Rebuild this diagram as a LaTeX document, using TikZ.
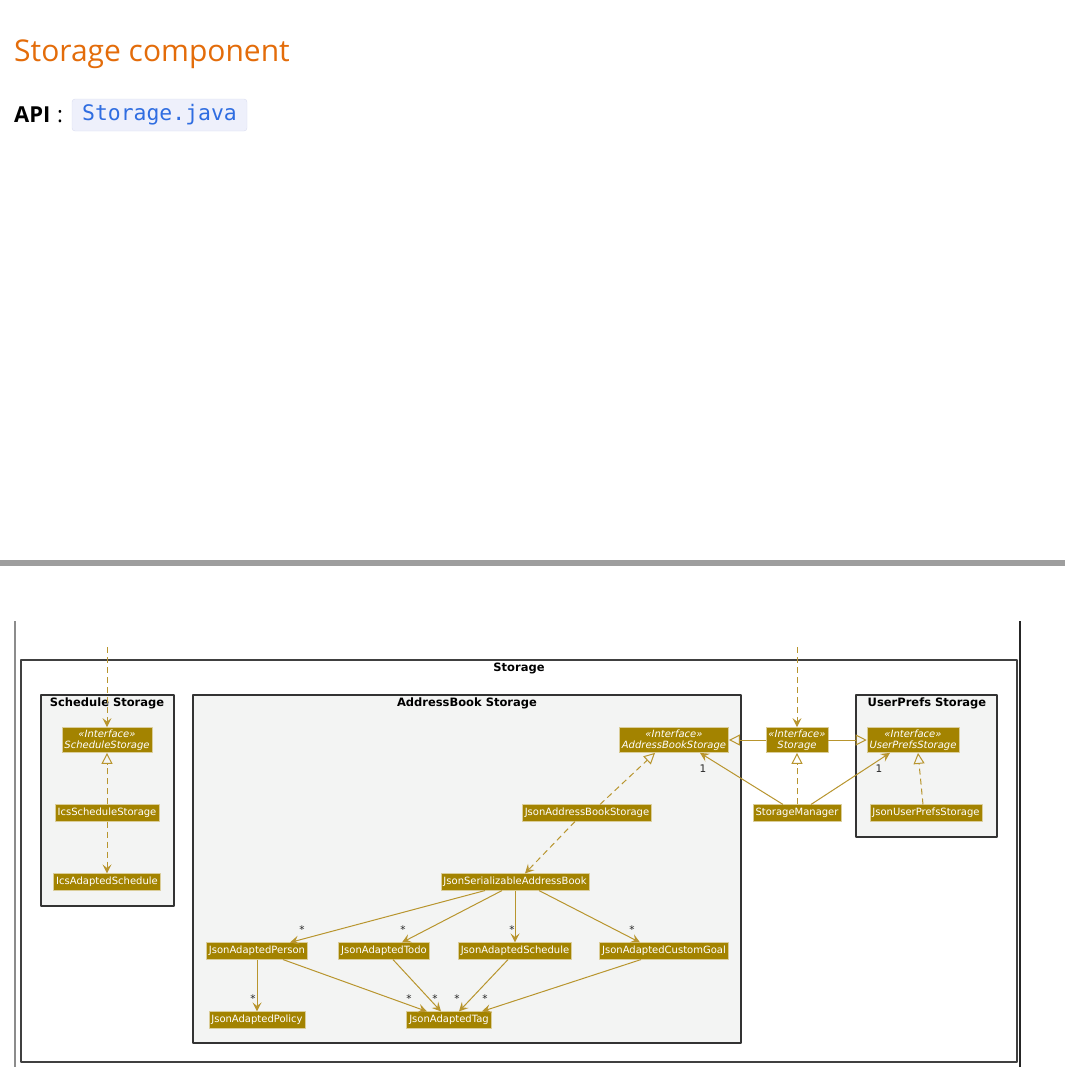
\documentclass[tikz,border=0pt]{standalone}
\usepackage{fontspec}
\usetikzlibrary{arrows.meta}
\newfontfamily\headfont{Open Sans}
\newfontfamily\umlfont{DejaVu Sans}
\newfontfamily\codefont{DejaVu Sans Mono}
\definecolor{storagegold}{HTML}{A38300}
\definecolor{linkgold}{HTML}{B8952E}
\definecolor{groupfill}{HTML}{F3F4F3}
\definecolor{headorange}{HTML}{E36C0A}
\definecolor{codeblue}{HTML}{2F6DE1}
\definecolor{codebg}{HTML}{EEF0FB}
\definecolor{codeline}{HTML}{D9DDF0}
\tikzset{
	cls/.style={fill=storagegold,draw=white!60!storagegold,line width=0.6pt,text=white,
		font=\umlfont\fontsize{10}{11.5}\selectfont,inner xsep=2.5pt,inner ysep=3pt,
		text height=8pt,text depth=2.5pt},
	iface/.style={cls,font=\umlfont\itshape\fontsize{10}{11.5}\selectfont,align=center,
		text height=,text depth=,inner ysep=2pt},
	grp/.style={draw=black!80,line width=1.2pt,fill=groupfill},
	grptitle/.style={font=\umlfont\bfseries\fontsize{11.5}{13}\selectfont,inner sep=0},
	assoc/.style={draw=linkgold,line width=1pt,-{Stealth[length=9pt,width=9pt,inset=3.5pt]}},
	dep/.style={assoc,dash pattern=on 6pt off 4pt},
	real/.style={draw=linkgold,line width=1pt,dash pattern=on 6pt off 4pt,
		-{Triangle[open,length=11pt,width=11pt]}},
	gen/.style={draw=linkgold,line width=1pt,-{Triangle[open,length=11pt,width=11pt]}},
	mult/.style={font=\umlfont\fontsize{10.5}{12}\selectfont,text=black!85,inner sep=0}
}
\begin{document}
\begin{tikzpicture}[x=1pt,y=-1pt,line join=round]
	\useasboundingbox (0,0) rectangle (1065,1085);
	%==Phần đầu trang
	\node[anchor=base west,inner sep=0,text=headorange,
		font=\headfont\fontsize{30}{36}\selectfont] (title) at (14,61) {Storage component};
	\node[anchor=base west,inner sep=0,font=\headfont\bfseries\fontsize{22}{26}\selectfont] (api) at (14,122) {API};
	\node[anchor=base west,inner sep=0,font=\headfont\fontsize{22}{26}\selectfont] (colon) at (57,122) {:};
	\node[fill=codebg,draw=codeline,rounded corners=3pt,minimum width=175pt,minimum height=32pt,
		text=codeblue,font=\codefont\fontsize{21.4}{24}\selectfont] (code) at (159.5,115) {Storage.java};
	\fill[black!38] (0,560) rectangle (1065,566);
	\draw[black!45,line width=2pt] (15,621) -- (15,1067);
	\draw[black!85,line width=1.5pt] (1020,621) -- (1020,1067);
	%==Các gói
	\draw[grp,fill=white,draw=black!75,line width=1.6pt] (21,660) rectangle (1017,1062);
	\foreach \a/\b/\c/\d in {41/695/174/906,193/695/741/1043,856/695/997/837}
		\draw[grp] (\a,\b) rectangle (\c,\d);
	\node[grptitle] (t-storage) at (519,668) {Storage};
	\node[grptitle] (t-sched) at (107,703) {Schedule Storage};
	\node[grptitle] (t-ab) at (467,703) {AddressBook Storage};
	\node[grptitle] (t-up) at (927,703) {UserPrefs Storage};
	%==Các lớp
	\foreach \n/\p/\t in {ss/{107,740}/ScheduleStorage,abs/{674,740}/AddressBookStorage,
		st/{797,740}/Storage,ups/{913,740}/UserPrefsStorage}
		\node[iface] (\n) at (\p) {«Interface»\\\t};
	\foreach \n/\p/\t in {ics/{107,813}/IcsScheduleStorage,icsa/{107,882}/IcsAdaptedSchedule,
		jabs/{587,813}/JsonAddressBookStorage,sm/{797,813}/StorageManager,
		jups/{926,813}/JsonUserPrefsStorage,jsab/{515,882}/JsonSerializableAddressBook,
		jap/{257,951}/JsonAdaptedPerson,jat/{384,951}/JsonAdaptedTodo,
		jas/{515,951}/JsonAdaptedSchedule,jacg/{664,951}/JsonAdaptedCustomGoal,
		jpol/{257,1020}/JsonAdaptedPolicy,jtag/{449,1020}/JsonAdaptedTag}
		\node[cls] (\n) at (\p) {\t};
	%==Các mũi tên
	\coordinate (inL) at (107,647);
	\coordinate (inR) at (797,647);
	\draw[dep] (inL) -- (ss);
	\draw[dep] (inR) -- (st);
	\draw[real] (ics) -- (ss);
	\draw[dep] (ics) -- (icsa);
	\draw[gen] (st) -- (abs);
	\draw[gen] (st) -- (ups);
	\draw[real] (sm) -- (st);
	\draw[assoc] ([xshift=-14pt]sm.north) -- ([xshift=26pt]abs.south);
	\draw[assoc] ([xshift=14pt]sm.north) -- ([xshift=-23pt]ups.south);
	\node[mult] (one-abs) at (703,769) {1};
	\node[mult] (one-ups) at (879,769) {1};
	\draw[real] ([xshift=-3pt]jups.north) -- ([xshift=5pt]ups.south);
	\draw[real] ([xshift=13pt]jabs.north) -- ([xshift=-19pt]abs.south);
	\draw[dep] ([xshift=-12pt]jabs.south) -- ([xshift=10pt]jsab.north);
	\foreach \to/\s/\e/\lx in {jap/-30/33/302,jat/-13/18/403,jas/0/0/512,jacg/24/-24/632}{
		\draw[assoc] ([xshift=\s pt]jsab.south) -- ([xshift=\e pt]\to.north);
		\node[mult] (m-\to) at (\lx,930) {*};}
	\draw[assoc] (jap) -- (jpol);
	\node[mult] (m-jpol) at (253,999) {*};
	\foreach \fr/\s/\e/\lx in {jap/26/-22/409,jat/9/-8/435,jas/-7/10/457,jacg/-23/33/485}{
		\draw[assoc] ([xshift=\s pt]\fr.south) -- ([xshift=\e pt]jtag.north);
		\node[mult] (m-\fr-tag) at (\lx,999) {*};}
\end{tikzpicture}
\end{document}
